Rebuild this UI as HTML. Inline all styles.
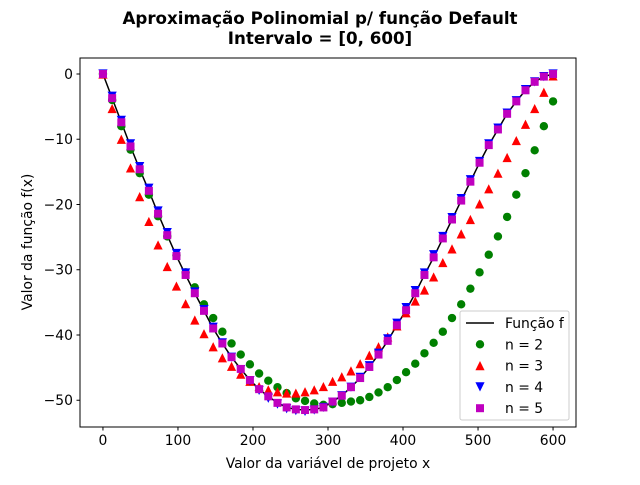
<!DOCTYPE html>
<html><head><meta charset="utf-8"><style>
body{margin:0;background:#fff;font-family:"Liberation Sans","DejaVu Sans",sans-serif}
svg text{font-family:"DejaVu Sans","Liberation Sans",sans-serif}
</style></head><body>
<svg id="c" width="640" height="480" xmlns="http://www.w3.org/2000/svg"></svg>
<script>
const fVals=[0,-3.7,-7.4,-11.1,-14.6,-17.9,-21.4,-24.7,-27.9,-30.8,-33.6,-36.3,-39.0,-41.3,-43.4,-45.2,-46.9,-48.3,-49.4,-50.4,-51.1,-51.4,-51.5,-51.4,-51.1,-50.2,-49.3,-48.0,-46.6,-44.9,-43.0,-40.9,-38.5,-36.2,-33.6,-30.8,-28.1,-25.2,-22.3,-19.4,-16.5,-13.6,-10.9,-8.5,-6.1,-4.2,-2.5,-1.2,-0.4,0];
const n2Vals=[0,-4.0,-8.0,-11.6,-15.2,-18.5,-21.8,-24.9,-27.8,-30.4,-32.7,-35.3,-37.4,-39.5,-41.3,-43.0,-44.5,-45.9,-47.0,-48.0,-48.9,-49.7,-50.1,-50.5,-50.7,-50.6,-50.4,-50.2,-50.0,-49.5,-48.8,-48.0,-46.9,-45.7,-44.4,-42.8,-41.2,-39.5,-37.4,-35.3,-32.9,-30.4,-27.7,-24.9,-21.9,-18.5,-15.2,-11.7,-8.0,-4.2];
const n3Vals=[0,-5.3,-10.0,-14.4,-18.8,-22.6,-26.2,-29.5,-32.5,-35.2,-37.7,-39.8,-41.8,-43.5,-44.8,-46.0,-47.1,-47.9,-48.4,-48.7,-48.9,-48.9,-48.7,-48.4,-47.9,-47.1,-46.4,-45.5,-44.4,-43.1,-41.8,-40.3,-38.6,-36.6,-34.8,-33.1,-31.1,-28.9,-26.8,-24.5,-22.3,-19.9,-17.6,-15.2,-12.8,-10.2,-7.7,-5.3,-2.8,-0.3];
const n4Vals=[0,-3.4,-7.1,-10.7,-14.2,-17.5,-21.0,-24.3,-27.5,-30.5,-33.4,-36.1,-38.8,-41.2,-43.4,-45.3,-47.0,-48.5,-49.7,-50.6,-51.3,-51.6,-51.7,-51.5,-51.1,-50.3,-49.3,-48.0,-46.5,-44.7,-42.8,-40.6,-38.2,-35.8,-33.2,-30.5,-27.7,-24.9,-22.0,-19.1,-16.2,-13.4,-10.7,-8.3,-6.0,-4.1,-2.4,-1.2,-0.4,0];
const n5Vals=[0,-3.7,-7.4,-11.1,-14.6,-17.9,-21.4,-24.7,-27.9,-30.8,-33.6,-36.3,-39.0,-41.3,-43.4,-45.2,-46.9,-48.3,-49.4,-50.4,-51.1,-51.4,-51.5,-51.4,-51.1,-50.2,-49.3,-48.0,-46.6,-44.9,-43.0,-40.9,-38.5,-36.2,-33.6,-30.8,-28.1,-25.2,-22.3,-19.4,-16.5,-13.6,-10.9,-8.5,-6.1,-4.2,-2.5,-1.2,-0.4,0];
const xTicks=[0,100,200,300,400,500,600];
const yTicks=[0,-10,-20,-30,-40,-50];
const NS="http://www.w3.org/2000/svg";
const svg=document.getElementById('c');
const L=80,T=58,R=576,B=427;
const xmin=-30.6,xmax=630.6,ymin=-54.1,ymax=2.45;
const X=v=>L+(v-xmin)/(xmax-xmin)*(R-L);
const Y=v=>B-(v-ymin)/(ymax-ymin)*(B-T);
const xs=fVals.map((_,i)=>i*600/(fVals.length-1));
function mk(tag,a,txt){const e=document.createElementNS(NS,tag);for(const k in a)e.setAttribute(k,a[k]);if(txt!==undefined)e.textContent=txt;svg.appendChild(e);return e;}
let e;
e=mk('rect',{x:L,y:T,width:R-L,height:B-T,fill:'#fff',stroke:'none'});


e=mk('polyline',{points:xs.map((x,i)=>X(x)+','+Y(fVals[i])).join(' '),fill:'none',stroke:'#000','stroke-width':1.5});


function circle(cx,cy,c){return mk('circle',{cx:cx,cy:cy,r:4.2,fill:c});}
function tri(cx,cy,c,down){const s=4.6;const p=down?[[cx-s,cy-s],[cx+s,cy-s],[cx,cy+s]]:[[cx,cy-s],[cx+s,cy+s],[cx-s,cy+s]];return mk('polygon',{points:p.map(q=>q.join(',')).join(' '),fill:c});}
function sq(cx,cy,c){return mk('rect',{x:cx-4,y:cy-4,width:8,height:8,fill:c});}
xs.forEach((x,i)=>{e=circle(X(x),Y(n2Vals[i]),'green');

});
xs.forEach((x,i)=>{e=tri(X(x),Y(n3Vals[i]),'red',false);

});
xs.forEach((x,i)=>{e=tri(X(x),Y(n4Vals[i]),'blue',true);

});
xs.forEach((x,i)=>{e=sq(X(x),Y(n5Vals[i]),'#bf00bf');

});
e=mk('rect',{x:L,y:T,width:R-L,height:B-T,fill:'none',stroke:'#000','stroke-width':1});


xTicks.forEach(t=>{const x=X(t);mk('line',{x1:x,x2:x,y1:B,y2:B+3.5,stroke:'#000'});
e=mk('text',{x:x,y:B+18,'font-size':13.9,'text-anchor':'middle'},String(t));

});
yTicks.forEach(t=>{const y=Y(t);mk('line',{x1:L-3.5,x2:L,y1:y,y2:y,stroke:'#000'});
e=mk('text',{x:L-7,y:y+5,'font-size':13.9,'text-anchor':'end'},t<0?'\u2212'+(-t):String(t));

});
e=mk('text',{x:328,y:468,'font-size':13.9,'text-anchor':'middle'},'Valor da variável de projeto x');


e=mk('text',{x:32,y:242,'font-size':13.9,'text-anchor':'middle',transform:'rotate(-90 32 242)'},'Valor da função f(x)');


e=mk('text',{x:320,y:24,'font-size':16.7,'font-weight':'bold','text-anchor':'middle'},'Aproximação Polinomial p/ função Default');


e=mk('text',{x:320,y:44,'font-size':16.7,'font-weight':'bold','text-anchor':'middle'},'Intervalo = [0, 600]');


e=mk('rect',{x:460,y:311,width:109,height:109,rx:2,fill:'#fff','fill-opacity':0.8,stroke:'#ccc'});


const labels=['Função f','n = 2','n = 3','n = 4','n = 5'];
labels.forEach((lb,k)=>{const y=323+k*21.3;const cx=480;
if(k===0)mk('line',{x1:466,x2:494,y1:y,y2:y,stroke:'#000','stroke-width':1.5});
if(k===1)circle(cx,y,'green');if(k===2)tri(cx,y,'red',false);if(k===3)tri(cx,y,'blue',true);if(k===4)sq(cx,y,'#bf00bf');
e=mk('text',{x:505,y:y+5,'font-size':13.9},lb);

});
</script>
</body></html>
